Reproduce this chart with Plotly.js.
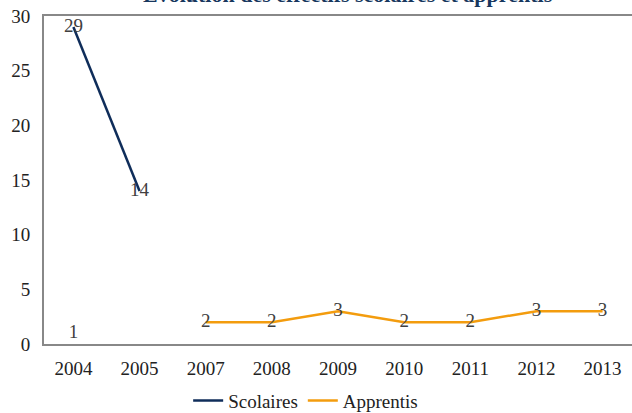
<!DOCTYPE html>
<html><head><meta charset="utf-8">
<script src="https://cdn.plot.ly/plotly-3.0.1.min.js"></script>
<style>html,body{margin:0;padding:0;background:#fff;}#chart{width:632px;height:413px;}</style>
</head><body><div id="chart"></div>
<script>
var years = ["2004","2005","2007","2008","2009","2010","2011","2012","2013"];
var scolaires = [29, 14, null, null, null, null, null, null, null];
var apprentis = [1, null, 2, 2, 3, 2, 2, 3, 3];
var titleText = "Évolution des effectifs scolaires et apprentis";

function lbl(arr){ return arr.map(function(v){ return v === null ? "" : String(v); }); }
var fontFam = "'Liberation Serif', 'Times New Roman', serif";
var traces = [
  {x: years, y: scolaires, name: "Scolaires", type: "scatter", mode: "lines+text",
   text: lbl(scolaires), textposition: "middle center",
   textfont: {family: fontFam, size: 19, color: "#404040"},
   line: {color: "#0F2D5A", width: 2.5}, connectgaps: false},
  {x: years, y: apprentis, name: "Apprentis", type: "scatter", mode: "lines+text",
   text: lbl(apprentis), textposition: "middle center",
   textfont: {family: fontFam, size: 19, color: "#404040"},
   line: {color: "#F39C0E", width: 2.5}, connectgaps: false}
];
var layout = {
  width: 632, height: 413,
  margin: {l: 44, r: 0, t: 16, b: 69, autoexpand: false},
  paper_bgcolor: "#fff", plot_bgcolor: "#fff",
  font: {family: fontFam, color: "#222", size: 19},
  title: {text: "<b>" + titleText + "</b>", font: {family: fontFam, size: 22, color: "#17375E"},
          x: 0.55, xanchor: "center", yref: "paper", y: 1, yanchor: "bottom", pad: {b: 14}},
  xaxis: {type: "category", showline: true, linecolor: "#888", linewidth: 2, mirror: true,
          showgrid: false, zeroline: false, ticks: "", ticklabelstandoff: 6,
          tickfont: {family: fontFam, size: 19, color: "#222"}},
  yaxis: {range: [0, 30], dtick: 5, showline: true, linecolor: "#888", linewidth: 2, mirror: true,
          showgrid: false, zeroline: false, ticks: "", ticklabelstandoff: 8,
          tickfont: {family: fontFam, size: 19, color: "#222"}},
  showlegend: true,
  legend: {orientation: "h", x: 0.445, xanchor: "center", yref: "container", y: 0.03, yanchor: "middle",
           font: {family: fontFam, size: 19, color: "#222"}, itemwidth: 30}
};
Plotly.newPlot("chart", traces, layout, {displayModeBar: false, staticPlot: true});
</script></body></html>
